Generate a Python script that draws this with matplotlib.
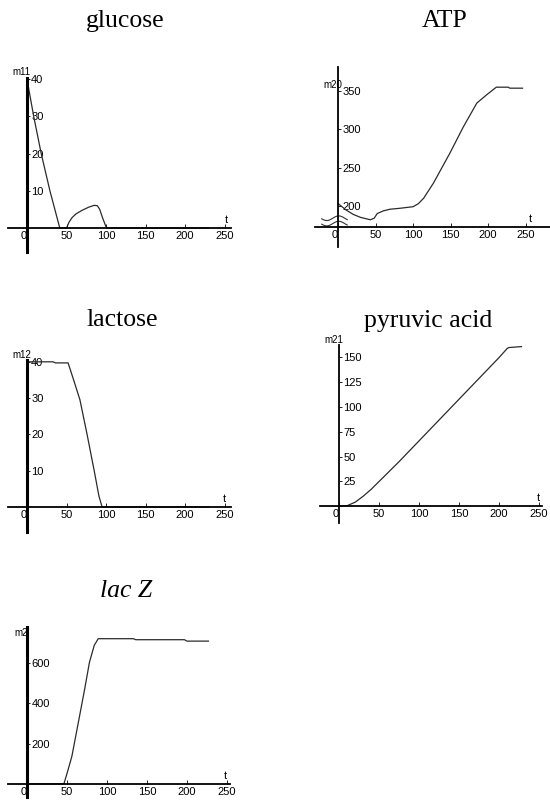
import numpy as np
import matplotlib.pyplot as plt

# values
glucose_t = [0, 8.5, 18, 29, 41.5, 50, 53, 57, 62, 70, 78, 85, 89, 92, 96, 100, 102, 230]
glucose = [40, 30, 20, 10, 0, 0, 1.5, 2.8, 3.8, 4.8, 5.6, 6.1, 6.0, 5.0, 2.5, 0.3, 0, 0]

lactose_t = [0, 33, 36, 52, 59, 67, 76, 85, 91, 95, 230]
lactose = [40, 40, 39.7, 39.7, 35, 29.5, 20, 10, 3, 0, 0]

lacz_t = [0, 46, 50, 56, 64, 72, 78, 84, 89, 133, 136, 197, 200, 227]
lacz = [0, 0, 53, 137, 303, 470, 603, 687, 720, 720, 715, 715, 708, 708]

atp_t = [0, 10, 20, 30, 43, 48, 52, 60, 69, 83, 100, 107, 114, 127, 149, 167, 185, 198, 211, 227, 229, 246]
atp = [203, 195, 189, 185, 182, 184, 190, 193.5, 195.7, 197, 199, 203, 210, 229.6, 268.7, 303, 334,
       344.7, 354.7, 354.7, 353.4, 353.4]

pyr_t = [0, 10, 20, 30, 40, 50, 75, 100, 125, 150, 175, 200, 210, 212, 228]
pyr = [0, 0.5, 4, 10, 17, 25, 45, 66, 87, 108, 129, 150, 159, 160, 161]

xticks = [0, 50, 100, 150, 200, 250]

W, H = 550, 800
fig = plt.figure(figsize=(5.5, 8), dpi=100)
plt.rcParams['font.family'] = 'Liberation Sans'


def add_panel(left, right, top, bottom):
    # pixel box -> figure fraction
    return fig.add_axes([left / W, 1 - bottom / H, (right - left) / W, (bottom - top) / H])


def style(ax, xlim, ylim, xaxis_at, yticks, ylab, ylab_y, ylw, t_x):
    ax.set_xlim(xlim)
    ax.set_ylim(ylim)
    ax.patch.set_visible(False)
    ax.spines['top'].set_visible(False)
    ax.spines['left'].set_visible(False)
    ax.spines['right'].set_position(('data', 0))
    ax.spines['bottom'].set_position(('data', xaxis_at))
    ax.spines['right'].set_linewidth(ylw)
    ax.spines['bottom'].set_linewidth(1.3)
    ax.yaxis.tick_right()
    ax.set_yticks(yticks)
    ax.set_xticks(xticks)
    ax.tick_params(axis='x', direction='in', length=3, width=0.6, pad=2, labelsize=8)
    ax.tick_params(axis='y', direction='out', length=2, width=0.6, pad=1, labelsize=8)
    ax.get_xticklabels()[0].set_ha('right')
    ax.annotate(ylab, (0, ylab_y), xytext=(-4, 0), textcoords='offset points',
                ha='center', va='center', fontsize=7, annotation_clip=False)
    ax.annotate('t', (t_x, xaxis_at), xytext=(0, 2), textcoords='offset points',
                ha='center', va='bottom', fontsize=8, annotation_clip=False)


line_kw = dict(color='#2b2b2b', lw=0.9)

# glucose
ax1 = add_panel(8, 231, 78, 251.5)
ax1.plot(glucose_t, glucose, **line_kw)
style(ax1, (-24, 258), (-6.3, 40.3), 0, [10, 20, 30, 40], 'm11', 41.9, 2.2, 252)

# lactose
ax3 = add_panel(8, 231, 360, 532)
ax3.plot(lactose_t, lactose, **line_kw)
style(ax3, (-24, 258), (-6.9, 40.5), 0, [10, 20, 30, 40], 'm12', 41.9, 2.2, 250)

# lac Z
ax5 = add_panel(8, 230, 627, 797)
ax5.plot(lacz_t, lacz, **line_kw)
style(ax5, (-24, 254), (-65, 778), 0, [200, 400, 600], 'm2', 749, 2.2, 248)

# ATP (broken y axis)
ax2 = add_panel(315, 549.5, 67, 247)
ax2.plot(atp_t, atp, **line_kw)
style(ax2, (-31, 282), (146.5, 381), 172.6, [200, 250, 300, 350], 'm20', 357.7, 1.3, 257)
wx = np.linspace(-22, 12, 60)
for c in (184, 177):
    ax2.plot(wx, c + 3 * np.sin(2 * np.pi * (wx + 22) / 32 + 3.4), color='#333333', lw=0.8,
             clip_on=False)

# pyruvic acid
ax4 = add_panel(320, 541.5, 344.6, 523)
ax4.plot(pyr_t, pyr, **line_kw)
style(ax4, (-24, 253), (-17, 163), 0, [25, 50, 75, 100, 125, 150], 'm21', 167.7, 1.3, 249)

# titles
title_kw = dict(family='Liberation Serif', fontsize=18.5, ha='center', va='baseline')
fig.text(125.5 / W, 1 - 27 / H, 'glucose', **title_kw)
fig.text(445 / W, 1 - 27 / H, 'ATP', **title_kw)
fig.text(122.5 / W, 1 - 325.7 / H, 'lactose', **title_kw)
fig.text(428 / W, 1 - 326.7 / H, 'pyruvic acid', **title_kw)
fig.text(125.7 / W, 1 - 596.7 / H, 'lac Z', style='italic', **title_kw)

fig.savefig('out.png', dpi=100)
